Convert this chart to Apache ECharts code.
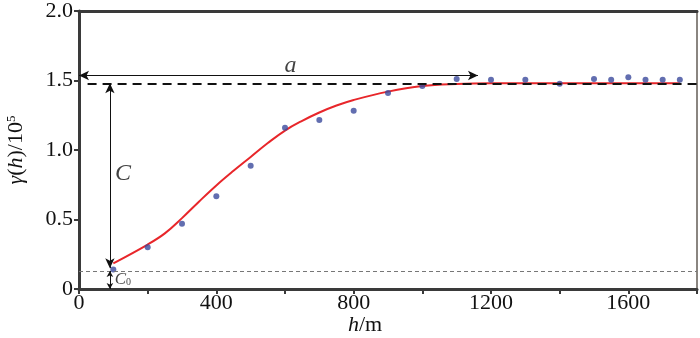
<!DOCTYPE html>
<html>
<head>
<meta charset="utf-8">
<script src="https://cdn.jsdelivr.net/npm/echarts@6/dist/echarts.min.js"></script>
<style>
html, body { margin: 0; padding: 0; background: #fff; }
#chart { width: 700px; height: 338px; }
</style>
</head>
<body>
<div id="chart"></div>
<script>
// measured semivariance (x 10^5)
var lagH = [100, 200, 300, 400, 500, 600, 700, 800, 900, 1000, 1100, 1200, 1300, 1400, 1500, 1550, 1600, 1650, 1700, 1750];
var gammaObs = [0.14, 0.30, 0.47, 0.667, 0.886, 1.16, 1.216, 1.283, 1.41, 1.46, 1.51, 1.505, 1.505, 1.476, 1.51, 1.505, 1.524, 1.505, 1.505, 1.505];

// fitted model curve
var modelH = [100, 200, 250, 300, 350, 400, 450, 500, 550, 600, 650, 700, 750, 800, 900, 1000, 1100, 1200, 1300, 1400, 1500, 1600, 1750];
var modelGamma = [0.185, 0.32, 0.40, 0.51, 0.63, 0.745, 0.85, 0.95, 1.05, 1.14, 1.21, 1.27, 1.32, 1.36, 1.42, 1.46, 1.475, 1.48, 1.48, 1.48, 1.48, 1.48, 1.48];

var sill = 1.48;      // C0 + C
var nugget = 0.13;    // C0
var range = 1162;     // a
var xTicks = [0, 400, 800, 1200, 1600];
var yTicks = [0, 0.5, 1.0, 1.5, 2.0];

var chart = echarts.init(document.getElementById('chart'));
var serif = '"Liberation Serif", "DejaVu Serif", serif';
var axisColor = '#3a3a3a';

var option = {
    backgroundColor: '#fff',
    animation: false,
    textStyle: { fontFamily: serif },
    grid: {
        left: 79, right: 3, top: 8, bottom: 49,
        show: true, borderColor: '#8a8580', borderWidth: 2
    },
    xAxis: [
        {
            type: 'value',
            min: 0, max: 1800, interval: 200,
            splitLine: { show: false },
            axisLine: { lineStyle: { color: axisColor, width: 3 } },
            axisTick: { length: 5, lineStyle: { color: axisColor, width: 2 } },
            axisLabel: {
                color: '#111', fontSize: 22, fontFamily: serif, margin: 3,
                formatter: function (v) {
                    return xTicks.indexOf(v) >= 0 ? String(v) : '';
                }
            }
        },
        {
            type: 'value', position: 'top',
            min: 0, max: 1800,
            splitLine: { show: false },
            axisLine: { lineStyle: { color: axisColor, width: 3 } },
            axisTick: { show: false },
            axisLabel: { show: false }
        }
    ],
    yAxis: {
        type: 'value',
        min: 0, max: 2.0, interval: 0.5,
        splitLine: { show: false },
        axisLine: { lineStyle: { color: axisColor, width: 3 } },
        axisTick: { length: 5, lineStyle: { color: axisColor, width: 2 } },
        axisLabel: {
            color: '#111', fontSize: 22, fontFamily: serif, margin: 6,
            formatter: function (v) {
                return yTicks.indexOf(v) < 0 ? '' : (v === 0 ? '0' : v.toFixed(1));
            }
        }
    },
    graphic: [
        {
            type: 'text', left: 348, top: 314,
            style: {
                text: '{i|h}/m',
                fontFamily: serif, fontSize: 22, fill: '#111',
                rich: { i: { fontStyle: 'italic', fontFamily: serif, fontSize: 22, fill: '#111' } }
            }
        },
        {
            type: 'text', x: 16, y: 150, rotation: Math.PI / 2,
            style: {
                text: '{i|γ}({i|h})/10{s|5}',
                align: 'center', verticalAlign: 'middle',
                fontFamily: serif, fontSize: 22, fill: '#111',
                rich: {
                    i: { fontStyle: 'italic', fontFamily: serif, fontSize: 22, fill: '#111' },
                    s: { fontFamily: serif, fontSize: 13, fill: '#111', verticalAlign: 'top' }
                }
            }
        }
    ],
    series: [
        {
            name: 'model',
            type: 'line',
            data: modelH.map(function (h, i) { return [h, modelGamma[i]]; }),
            smooth: 0.4,
            showSymbol: false,
            lineStyle: { color: '#e8262a', width: 2 },
            z: 3,
            markLine: {
                silent: true,
                symbol: ['none', 'none'],
                label: { show: false },
                data: [
                    [
                        { coord: [25, sill], lineStyle: { color: '#111', width: 2, type: [9, 6] } },
                        { coord: [1800, sill] }
                    ],
                    [
                        { coord: [0, nugget], lineStyle: { color: '#777', width: 1, type: [4, 3] } },
                        { coord: [1800, nugget] }
                    ]
                ]
            }
        },
        {
            name: 'observed',
            type: 'scatter',
            data: lagH.map(function (h, i) { return [h, gammaObs[i]]; }),
            symbol: 'circle',
            symbolSize: 6,
            itemStyle: { color: '#3b4a9c' },
            z: 4
        },
        {
            name: 'annotations',
            type: 'line',
            data: [],
            z: 5,
            markLine: {
                silent: true,
                symbol: ['arrow', 'arrow'],
                symbolSize: [7, 10],
                label: { show: false },
                lineStyle: { color: '#111', width: 1, type: 'solid' },
                data: [
                    [{ coord: [0, 1.536] }, { coord: [range, 1.536] }],
                    [{ coord: [90, sill] }, { coord: [90, 0.15] }],
                    [{ coord: [90, nugget], symbolSize: [5, 6] }, { coord: [90, 0], symbolSize: [5, 6] }]
                ]
            }
        },
        {
            name: 'labels',
            type: 'scatter',
            symbolSize: 0,
            silent: true,
            z: 6,
            data: [
                { value: [616, 1.61], name: 'a' },
                { value: [128, 0.83], name: 'C' },
                { value: [128, 0.07], name: 'C0' }
            ],
            label: {
                show: true,
                position: 'inside',
                fontFamily: serif,
                color: '#111',
                formatter: function (p) {
                    if (p.name === 'C0') return '{c|C}{s|0}';
                    return '{b|' + p.name + '}';
                },
                rich: {
                    b: { fontStyle: 'italic', fontSize: 24, fontFamily: serif, color: '#111' },
                    c: { fontStyle: 'italic', fontSize: 17, fontFamily: serif, color: '#111' },
                    s: { fontSize: 10, fontFamily: serif, color: '#111', verticalAlign: 'bottom' }
                }
            }
        }
    ]
};

chart.setOption(option);
window.addEventListener('resize', function () {
    chart.resize();
});
</script>
</body>
</html>
